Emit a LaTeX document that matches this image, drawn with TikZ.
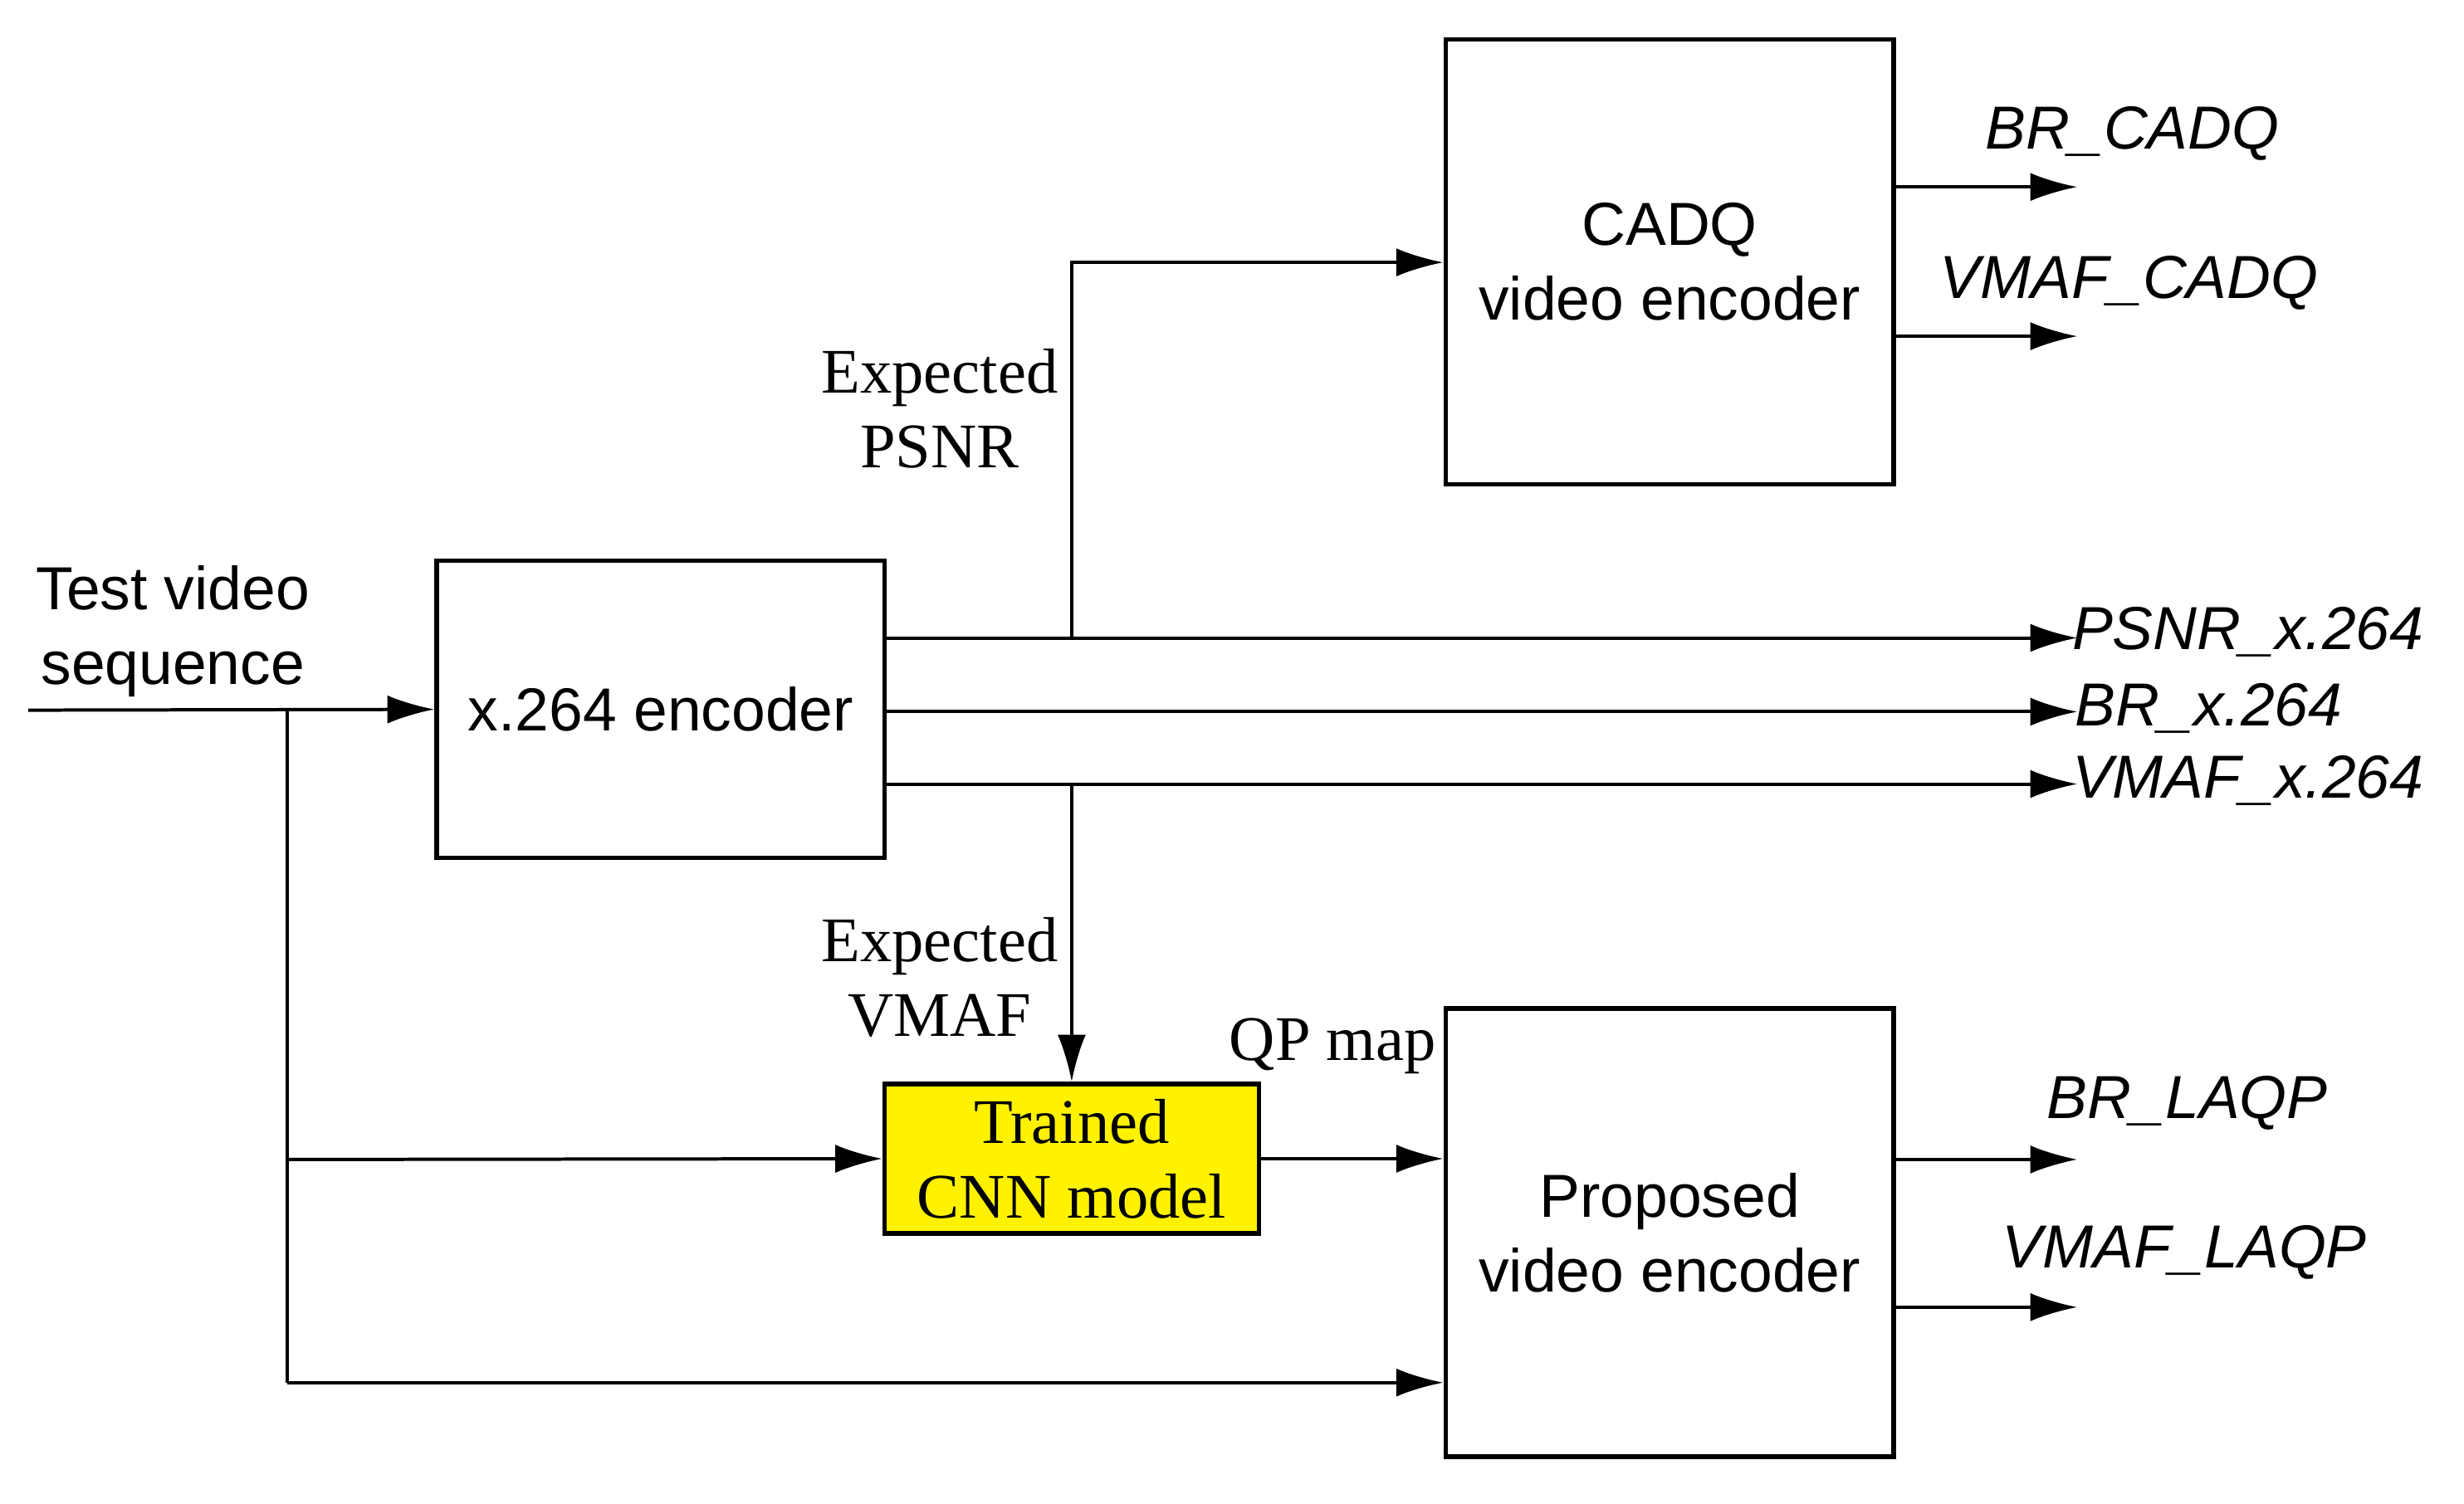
\documentclass[tikz,border=0pt]{standalone}
\usepackage{fontspec}
\setmainfont{Liberation Serif}
\setsansfont{Liberation Sans}
\usetikzlibrary{arrows.meta}
\begin{document}
\begin{tikzpicture}[x=0.01cm,y=-0.01cm,
  box/.style={draw,thick,inner sep=0pt,align=center,font=\sffamily\fontsize{11}{13.5}\selectfont},
  lab/.style={font=\sffamily\itshape\fontsize{11}{13.5}\selectfont,inner sep=0pt},
  slab/.style={font=\fontsize{11.5}{13.5}\selectfont,align=center,inner sep=0pt},
  ar/.style={-{Latex[length=0.3cm,width=0.18cm]},semithick},
  ln/.style={semithick}]
\useasboundingbox (0,0) rectangle (1568,957);
\node[box,minimum width=2.85cm,minimum height=2.83cm] (cadq) at (1062.5,166.5) {CADQ\\video encoder};
\node[box,minimum width=2.85cm,minimum height=1.89cm] (enc) at (420.5,451.5) {x.264 encoder};
\node[box,minimum width=2.85cm,minimum height=2.85cm] (prop) at (1062.5,784.5) {Proposed\\video encoder};
\node[box,fill=yellow,minimum width=2.38cm,minimum height=0.95cm,font=\fontsize{11.5}{13.5}\selectfont] (cnn) at (682,737.5) {Trained\\CNN model};
\coordinate (in) at (18,452);
\coordinate (split) at (183,452);
\node[align=center,font=\sffamily\fontsize{11}{13.5}\selectfont] (tv) at (110,402) {Test video\\sequence};
\draw[ar] (in) -- (enc.west);
\coordinate (s1) at (183,738);
\coordinate (s2) at (183,880);
\draw[ln] (split) -- (s2);
\draw[ar] (s1) -- (cnn.west);
\draw[ar] (s2) -- (prop.west |- s2);
\coordinate (e1) at (563,406); \coordinate (o1) at (1322,406);
\coordinate (e2) at (563,453); \coordinate (o2) at (1322,453);
\coordinate (e3) at (563,499); \coordinate (o3) at (1322,499);
\draw[ar] (e1) -- (o1); \draw[ar] (e2) -- (o2); \draw[ar] (e3) -- (o3);
\node[lab,anchor=west] (l1) at (1318,402) {PSNR\_x.264};
\node[lab,anchor=west] (l2) at (1320,451) {BR\_x.264};
\node[lab,anchor=west] (l3) at (1318,497) {VMAF\_x.264};
\coordinate (b1) at (682,406); \coordinate (b1t) at (682,167);
\draw[ar] (b1) -- (b1t) -- (cadq.west |- b1t);
\coordinate (b2) at (682,499);
\draw[ar] (b2) -- (cnn.north);
\node[slab] (ep) at (598,260) {Expected\\PSNR};
\node[slab] (ev) at (598,622) {Expected\\VMAF};
\draw[ar] (cnn.east) -- (prop.west |- cnn.east);
\node[slab] (qp) at (848,666) {QP map};
\coordinate (c1) at (1205,119); \coordinate (c1e) at (1322,119);
\coordinate (c2) at (1205,214); \coordinate (c2e) at (1322,214);
\draw[ar] (c1) -- (c1e); \draw[ar] (c2) -- (c2e);
\node[lab] (lc1) at (1357,85) {BR\_CADQ};
\node[lab] (lc2) at (1355,180) {VMAF\_CADQ};
\coordinate (p1) at (1205,738); \coordinate (p1e) at (1322,738);
\coordinate (p2) at (1205,832); \coordinate (p2e) at (1322,832);
\draw[ar] (p1) -- (p1e); \draw[ar] (p2) -- (p2e);
\node[lab] (lp1) at (1392,702) {BR\_LAQP};
\node[lab] (lp2) at (1390,797) {VMAF\_LAQP};
\end{tikzpicture}
\end{document}
